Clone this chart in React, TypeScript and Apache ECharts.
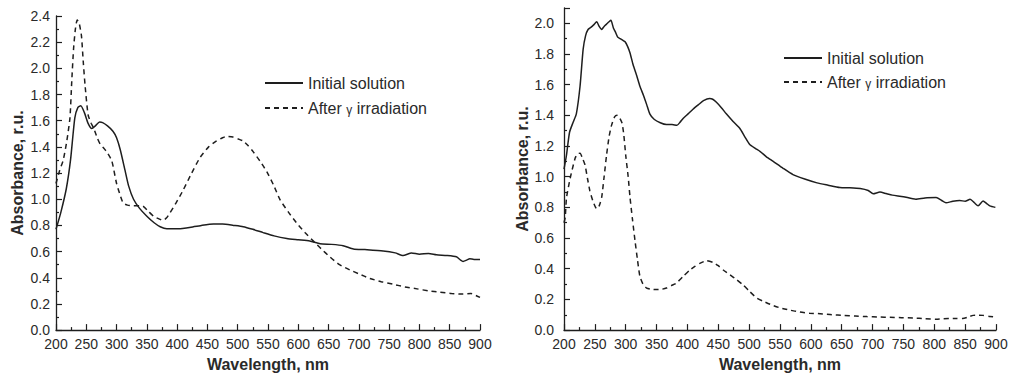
import React, { useEffect, useRef } from "react";
import * as echarts from "echarts";

// ---------- Data ----------
const seriesNames = ["Initial solution", "After γ irradiation"];

// Left panel
const leftInitialNm = [200, 208, 217, 224, 231, 236, 241, 247, 253, 259, 265, 272, 277, 285, 294, 300, 306, 314, 320, 328, 338, 350, 362, 372, 383, 395, 405, 415, 427, 440, 460, 475, 493, 509, 525, 542, 560, 581, 600, 619, 636, 655, 674, 691, 710, 740, 760, 773, 787, 800, 815, 828, 845, 861, 868, 872, 878, 883, 890, 900];
const leftInitialAbs = [0.77, 0.9, 1.08, 1.3, 1.62, 1.7, 1.715, 1.66, 1.58, 1.54, 1.56, 1.59, 1.585, 1.56, 1.52, 1.47, 1.38, 1.22, 1.1, 1.0, 0.93, 0.87, 0.82, 0.79, 0.775, 0.775, 0.775, 0.78, 0.79, 0.8, 0.81, 0.81, 0.8, 0.79, 0.77, 0.745, 0.72, 0.7, 0.69, 0.68, 0.66, 0.655, 0.645, 0.62, 0.615, 0.605, 0.59, 0.57, 0.59, 0.58, 0.585, 0.575, 0.57, 0.56, 0.535, 0.525, 0.535, 0.545, 0.54, 0.54];

const leftAfterNm = [200, 206, 212, 218, 223, 226, 229, 232, 235, 238, 242, 245, 248, 253, 258, 262, 268, 273, 279, 284, 292, 300, 306, 311, 318, 328, 338, 344, 352, 361, 370, 377, 383, 388, 398, 410, 424, 438, 452, 465, 475, 482, 492, 501, 509, 517, 526, 537, 548, 559, 570, 584, 597, 611, 625, 638, 652, 668, 685, 700, 718, 737, 757, 776, 796, 815, 834, 853, 872, 885, 893, 900];
const leftAfterAbs = [1.12, 1.22, 1.3, 1.45, 1.62, 1.9, 2.15, 2.3, 2.37, 2.35, 2.25, 2.05, 1.87, 1.645, 1.58, 1.545, 1.47, 1.42, 1.39, 1.36, 1.295, 1.12, 1.03, 0.97, 0.955, 0.95, 0.95, 0.945, 0.91, 0.87, 0.85, 0.84, 0.86, 0.895, 0.97, 1.07, 1.2, 1.32, 1.4, 1.445, 1.47, 1.48, 1.475, 1.46, 1.445, 1.41, 1.36, 1.29, 1.21, 1.11, 0.995, 0.9, 0.82, 0.745, 0.68, 0.62, 0.56, 0.5, 0.46, 0.43, 0.395, 0.37, 0.35, 0.33, 0.315, 0.3, 0.29, 0.28, 0.275, 0.28, 0.265, 0.25];

// Right panel
const rightInitialNm = [200, 204, 209, 215, 220, 226, 231, 235, 239, 244, 248, 253, 257, 261, 265, 269, 273, 276, 280, 283, 287, 291, 295, 299, 303, 307, 312, 318, 323, 329, 334, 339, 346, 356, 366, 375, 383, 388, 393, 401, 409, 418, 426, 436, 441, 447, 455, 463, 474, 485, 493, 501, 510, 518, 528, 539, 555, 571, 590, 610, 628, 647, 663, 680, 693, 701, 712, 722, 732, 750, 770, 785, 803, 812, 819, 830, 841, 850, 858, 865, 871, 879, 885, 890, 899];
const rightInitialAbs = [1.05, 1.14, 1.29, 1.357, 1.41, 1.59, 1.83, 1.92, 1.96, 1.975, 1.99, 2.01, 1.98, 1.96, 1.98, 1.995, 2.01, 2.02, 1.97, 1.946, 1.91, 1.9, 1.89, 1.88, 1.85, 1.807, 1.73, 1.657, 1.59, 1.528, 1.47, 1.41, 1.375, 1.352, 1.34, 1.34, 1.335, 1.355, 1.38, 1.41, 1.44, 1.47, 1.496, 1.51, 1.505, 1.485, 1.45, 1.41, 1.36, 1.314, 1.26, 1.21, 1.185, 1.164, 1.13, 1.1, 1.055, 1.014, 0.985, 0.96, 0.945, 0.93, 0.928, 0.923, 0.91, 0.889, 0.9, 0.89, 0.88, 0.87, 0.853, 0.862, 0.864, 0.845, 0.83, 0.84, 0.845, 0.84, 0.853, 0.83, 0.81, 0.842, 0.825, 0.81, 0.8];

const rightAfterNm = [200, 202, 204, 210, 218, 222, 226, 230, 234, 238, 242, 247, 253, 257, 261, 265, 269, 273, 277, 282, 286, 290, 294, 297, 300, 304, 307, 311, 315, 319, 323, 328, 334, 342, 350, 358, 366, 374, 382, 393, 404, 412, 420, 431, 442, 450, 458, 469, 480, 490, 500, 512, 523, 536, 550, 566, 582, 598, 615, 634, 653, 672, 691, 710, 728, 747, 766, 785, 803, 815, 824, 835, 846, 855, 863, 871, 879, 890, 900];
const rightAfterAbs = [0.7, 0.735, 0.86, 0.99, 1.12, 1.15, 1.153, 1.12, 1.078, 0.99, 0.907, 0.84, 0.79, 0.81, 0.864, 1.0, 1.142, 1.26, 1.335, 1.39, 1.4, 1.385, 1.35, 1.27, 1.14, 1.0, 0.864, 0.72, 0.585, 0.46, 0.35, 0.3, 0.274, 0.266, 0.264, 0.266, 0.274, 0.29, 0.306, 0.35, 0.392, 0.415, 0.435, 0.452, 0.44, 0.42, 0.392, 0.36, 0.328, 0.295, 0.255, 0.21, 0.188, 0.165, 0.145, 0.13, 0.118, 0.11, 0.107, 0.1, 0.096, 0.092, 0.088, 0.085, 0.083, 0.081, 0.079, 0.075, 0.071, 0.074, 0.075, 0.076, 0.075, 0.085, 0.096, 0.097, 0.096, 0.088, 0.085];

const xMin = 200;
const xMax = 900;
const xStep = 50;
const leftYMax = 2.4;
const rightYMax = 2.1;
const yStep = 0.2;
const xTitle = "Wavelength, nm";
const yTitle = "Absorbance, r.u.";

// ---------- Helpers ----------
const zip = (xs: number[], ys: number[]) => xs.map((x, i) => [x, ys[i]]);

const FONT = "Liberation Sans, Arial, Helvetica, sans-serif";
const INK = "#1e1e1e";
const TEXT = "#2a2a2a";

function makeX(gridIndex: number) {
  return {
    type: "value",
    gridIndex,
    min: xMin,
    max: xMax,
    interval: xStep,
    name: xTitle,
    nameLocation: "middle",
    nameGap: 23,
    nameTextStyle: { fontFamily: FONT, fontSize: 16, fontWeight: "bold", color: TEXT },
    axisLine: { show: true, lineStyle: { color: INK, width: 1.3 } },
    axisTick: { show: true, inside: true, length: 6, lineStyle: { color: INK, width: 1.2 } },
    minorTick: { show: true, splitNumber: 2, length: 3, lineStyle: { color: INK, width: 1.2 } },
    splitLine: { show: false },
    minorSplitLine: { show: false },
    axisLabel: { fontFamily: FONT, fontSize: 14, color: TEXT, margin: 7, showMinLabel: true, showMaxLabel: true },
  };
}

function makeY(gridIndex: number, max: number, gap: number, margin: number) {
  return {
    type: "value",
    gridIndex,
    min: 0,
    max,
    interval: yStep,
    name: yTitle,
    nameLocation: "middle",
    nameGap: gap,
    nameTextStyle: { fontFamily: FONT, fontSize: 16, fontWeight: "bold", color: TEXT },
    axisLine: { show: true, lineStyle: { color: INK, width: 1.3 } },
    axisTick: { show: true, inside: true, length: 6, lineStyle: { color: INK, width: 1.2 } },
    minorTick: { show: true, splitNumber: 2, length: 3, lineStyle: { color: INK, width: 1.2 } },
    splitLine: { show: false },
    minorSplitLine: { show: false },
    axisLabel: {
      fontFamily: FONT,
      fontSize: 14,
      color: TEXT,
      margin,
      formatter: (v: number) => (v > max - 0.05 && Math.abs(v / yStep - Math.round(v / yStep)) > 0.01 ? "" : v.toFixed(1)),
    },
  };
}

function makeLine(name: string, data: number[][], dashed: boolean, idx: number) {
  return {
    type: "line",
    name,
    xAxisIndex: idx,
    yAxisIndex: idx,
    data,
    symbol: "none",
    smooth: 0.2,
    lineStyle: { color: INK, width: 1.5, type: dashed ? [5, 4] : "solid" },
    itemStyle: { color: INK },
  };
}

export default function App() {
  const ref = useRef<HTMLDivElement>(null);

  useEffect(() => {
    if (!ref.current) return;
    const chart = echarts.init(ref.current, null, { renderer: "svg" });
    const legendBase = {
      orient: "vertical",
      itemWidth: 38,
      itemHeight: 14,
      selectedMode: false,
      data: seriesNames,
      itemStyle: { color: "transparent", borderColor: "transparent", borderWidth: 0, opacity: 0 },
      formatter: (name: string) => name.replace("γ", "{g|γ}"),
      textStyle: {
        fontFamily: FONT,
        fontSize: 16,
        color: TEXT,
        rich: { g: { fontFamily: FONT, fontSize: 12, color: TEXT, padding: [3, 0, 0, 0] } },
      },
    };
    chart.setOption({
      animation: false,
      backgroundColor: "#ffffff",
      grid: [
        { left: 56, top: 16, width: 424, height: 320 },
        { left: 564, top: 8, width: 432, height: 326 },
      ],
      xAxis: [makeX(0), makeX(1)],
      yAxis: [makeY(0, leftYMax, 31, 6), makeY(1, rightYMax, 29, 10)],
      legend: [
        { ...legendBase, left: 259, top: 70, itemGap: 9 },
        { ...legendBase, left: 778, top: 45, itemGap: 8 },
      ],
      series: [
        makeLine(seriesNames[0], zip(leftInitialNm, leftInitialAbs), false, 0),
        makeLine(seriesNames[1], zip(leftAfterNm, leftAfterAbs), true, 0),
        makeLine(seriesNames[0], zip(rightInitialNm, rightInitialAbs), false, 1),
        makeLine(seriesNames[1], zip(rightAfterNm, rightAfterAbs), true, 1),
      ],
    });
    return () => chart.dispose();
  }, []);

  return (
    <div
      ref={ref}
      style={{ position: "absolute", left: 0, top: 0, width: 1014, height: 377, background: "#fff" }}
    />
  );
}
